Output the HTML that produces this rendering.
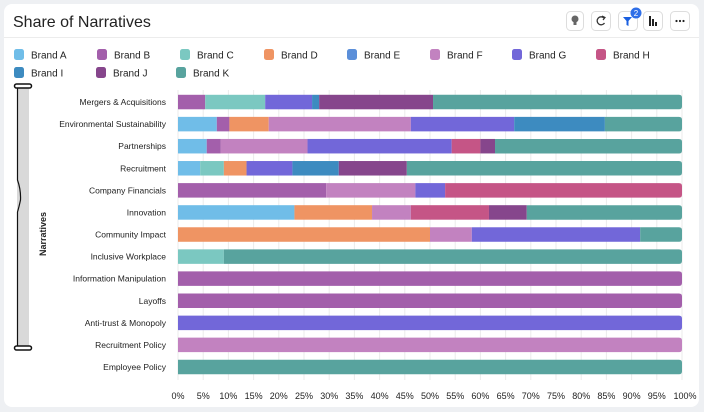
<!DOCTYPE html>
<html><head><meta charset="utf-8"><style>
body{margin:0;background:#eef0f3;font-family:"Liberation Sans",sans-serif;}
#card{position:absolute;left:4px;top:4px;width:695px;height:403px;background:#fff;border-radius:8px;overflow:hidden}
</style></head><body>
<div id="card">
<svg width="704" height="412" style="position:absolute;left:-4px;top:-4px" id="svg">
<text x="13" y="27" font-size="16" fill="#222">Share of Narratives</text>
<line x1="4" x2="700" y1="37.5" y2="37.5" stroke="#ececec"/>
<g>
<g><rect x="566.5" y="11.5" width="17" height="19" rx="4" fill="#fff" stroke="#ddd"/><circle cx="575" cy="19" r="3.5" fill="#666"/><rect x="573.5" y="22" width="3" height="3" fill="#666"/></g>
<g><rect x="591.5" y="11.5" width="19" height="19" rx="4" fill="#fff" stroke="#ddd"/><path d="M604 18 A4 4 0 1 0 604.5 23" fill="none" stroke="#333" stroke-width="1.3"/><path d="M602 16 L605 17.5 L603 20" fill="none" stroke="#333" stroke-width="1.2"/></g>
<g><rect x="618.5" y="11.5" width="19" height="19" rx="4" fill="#fff" stroke="#ddd"/><path d="M623 17 L632 17 L628.5 21 L628.5 26 L626.5 25 L626.5 21 Z" fill="#1a5fe0"/><circle cx="636" cy="13" r="5.5" fill="#2f6fe8"/><text x="636" y="16" font-size="8" fill="#fff" text-anchor="middle">2</text></g>
<g><rect x="643.5" y="11.5" width="19" height="19" rx="4" fill="#fff" stroke="#ddd"/><rect x="649" y="16" width="2" height="10" fill="#222"/><rect x="652" y="19" width="2" height="7" fill="#222"/><rect x="655" y="22" width="2" height="4" fill="#222"/></g>
<g><rect x="670.5" y="11.5" width="19" height="19" rx="4" fill="#fff" stroke="#ddd"/><circle cx="676.5" cy="21" r="1.1" fill="#222"/><circle cx="680" cy="21" r="1.1" fill="#222"/><circle cx="683.5" cy="21" r="1.1" fill="#222"/></g>
</g>
<g>
<rect x="17" y="86" width="12" height="262" fill="#d9d9d9"/>
<path d="M17.5 86 L17.5 180 Q21 190 20.5 200 Q19 207 17.5 212 L17.5 348" fill="none" stroke="#111" stroke-width="1.2"/>
<rect x="14.5" y="84" width="17" height="4" rx="2" fill="#fff" stroke="#111" stroke-width="1.5"/>
<rect x="14.5" y="346" width="17" height="4" rx="2" fill="#fff" stroke="#111" stroke-width="1.5"/>
</g>
<text transform="translate(46,234) rotate(-90)" font-size="9" font-weight="bold" fill="#222" text-anchor="middle">Narratives</text>
<g id="legend"></g><g id="grid"></g><g id="bars"></g><g id="ylab"></g><g id="xlab"></g>
</svg></div>
<script>
const brands=["Brand A","Brand B","Brand C","Brand D","Brand E","Brand F","Brand G","Brand H","Brand I","Brand J","Brand K"];
const colors=["#70bde8","#a35fab","#7bc8c1","#ef9463","#5b8fd9","#c282c0","#7267d9","#c55586","#3d8bc0","#86468c","#58a39e"];
const categories=["Mergers & Acquisitions","Environmental Sustainability","Partnerships","Recruitment","Company Financials","Innovation","Community Impact","Inclusive Workplace","Information Manipulation","Layoffs","Anti-trust & Monopoly","Recruitment Policy","Employee Policy"];
const brandA=[0,7.7,5.7,4.4,0,23.1,0,0,0,0,0,0,0];
const brandB=[5.4,2.5,2.8,0,29.4,0,0,0,100,100,0,0,0];
const brandC=[11.9,0,0,4.7,0,0,0,9.1,0,0,0,0,0];
const brandD=[0,7.8,0,4.5,0,15.4,50,0,0,0,0,0,0];
const brandE=[0,0,0,0,0,0,0,0,0,0,0,0,0];
const brandF=[0,28.2,17.2,0,17.7,7.7,8.3,0,0,0,0,100,0];
const brandG=[9.3,20.5,28.6,9.1,5.9,0,33.4,0,0,0,100,0,0];
const brandH=[0,0,5.7,0,47,15.5,0,0,0,0,0,0,0];
const brandI=[1.4,18,0,9.2,0,0,0,0,0,0,0,0,0];
const brandJ=[22.6,0,2.9,13.5,0,7.5,0,0,0,0,0,0,0];
const brandK=[49.4,15.3,37.1,54.6,0,30.8,8.3,90.9,0,0,0,0,100];
const xTicks=[0,5,10,15,20,25,30,35,40,45,50,55,60,65,70,75,80,85,90,95,100];
const series=[brandA,brandB,brandC,brandD,brandE,brandF,brandG,brandH,brandI,brandJ,brandK];
const NS="http://www.w3.org/2000/svg";
const x0=178,x1=682,yTop=91,step=22.08,bh=14.5;
const xs=v=>x0+(x1-x0)*v/100;
const yc=i=>yTop+step*i+step/2;
function mk(t,a,p){const e=document.createElementNS(NS,t);for(const k in a)e.setAttribute(k,a[k]);p.appendChild(e);return e;}
const lg=document.getElementById('legend');
brands.forEach((b,i)=>{const col=i<8?i:i-8,row=i<8?0:1;
 const lx=[14,97,180,264,347,430,512,596][col]+(row&&col==1?-1:0)+(row&&col==2?-4:0);const ly=row?73:55;
 const g=mk('g',{},lg);
 
 
 mk('rect',{x:lx,y:ly-6,width:10,height:11,rx:2.5,fill:colors[i]},g);
 const t=mk('text',{x:lx+17,y:ly+3.5,'font-size':10,fill:'#222'},g);t.textContent=b;});
const gr=document.getElementById('grid'),xl=document.getElementById('xlab');
xTicks.forEach(v=>{const l=mk('line',{x1:xs(v),x2:xs(v),y1:90,y2:380,stroke:'#ebebeb'},gr);
 
 
 const t=mk('text',{x:xs(v)+(v==100?3:0),y:399,'font-size':9,fill:'#222','text-anchor':'middle'},xl);t.textContent=v+'%';
 
 });
const bg=document.getElementById('bars'),yl=document.getElementById('ylab');
categories.forEach((c,i)=>{let acc=0;const y=yc(i)-bh/2;
 const t=mk('text',{x:166,y:yc(i)+3,'font-size':8.5,fill:'#222','text-anchor':'end'},yl);t.textContent=c;
 
 
 let last=-1;series.forEach((s,k)=>{if(s[i])last=k;});
 series.forEach((s,k)=>{const v=s[i];if(!v)return;
  const xa=xs(acc),xb=xs(acc+v);let r;
  if(k===last){const rr=3;
   r=mk('path',{d:`M${xa} ${y} L${xb-rr} ${y} Q${xb} ${y} ${xb} ${y+rr} L${xb} ${y+bh-rr} Q${xb} ${y+bh} ${xb-rr} ${y+bh} L${xa} ${y+bh} Z`,fill:colors[k]},bg);
  } else r=mk('rect',{x:xa,y:y,width:xb-xa,height:bh,fill:colors[k]},bg);
  
  
  acc+=v;});});
</script></body></html>
